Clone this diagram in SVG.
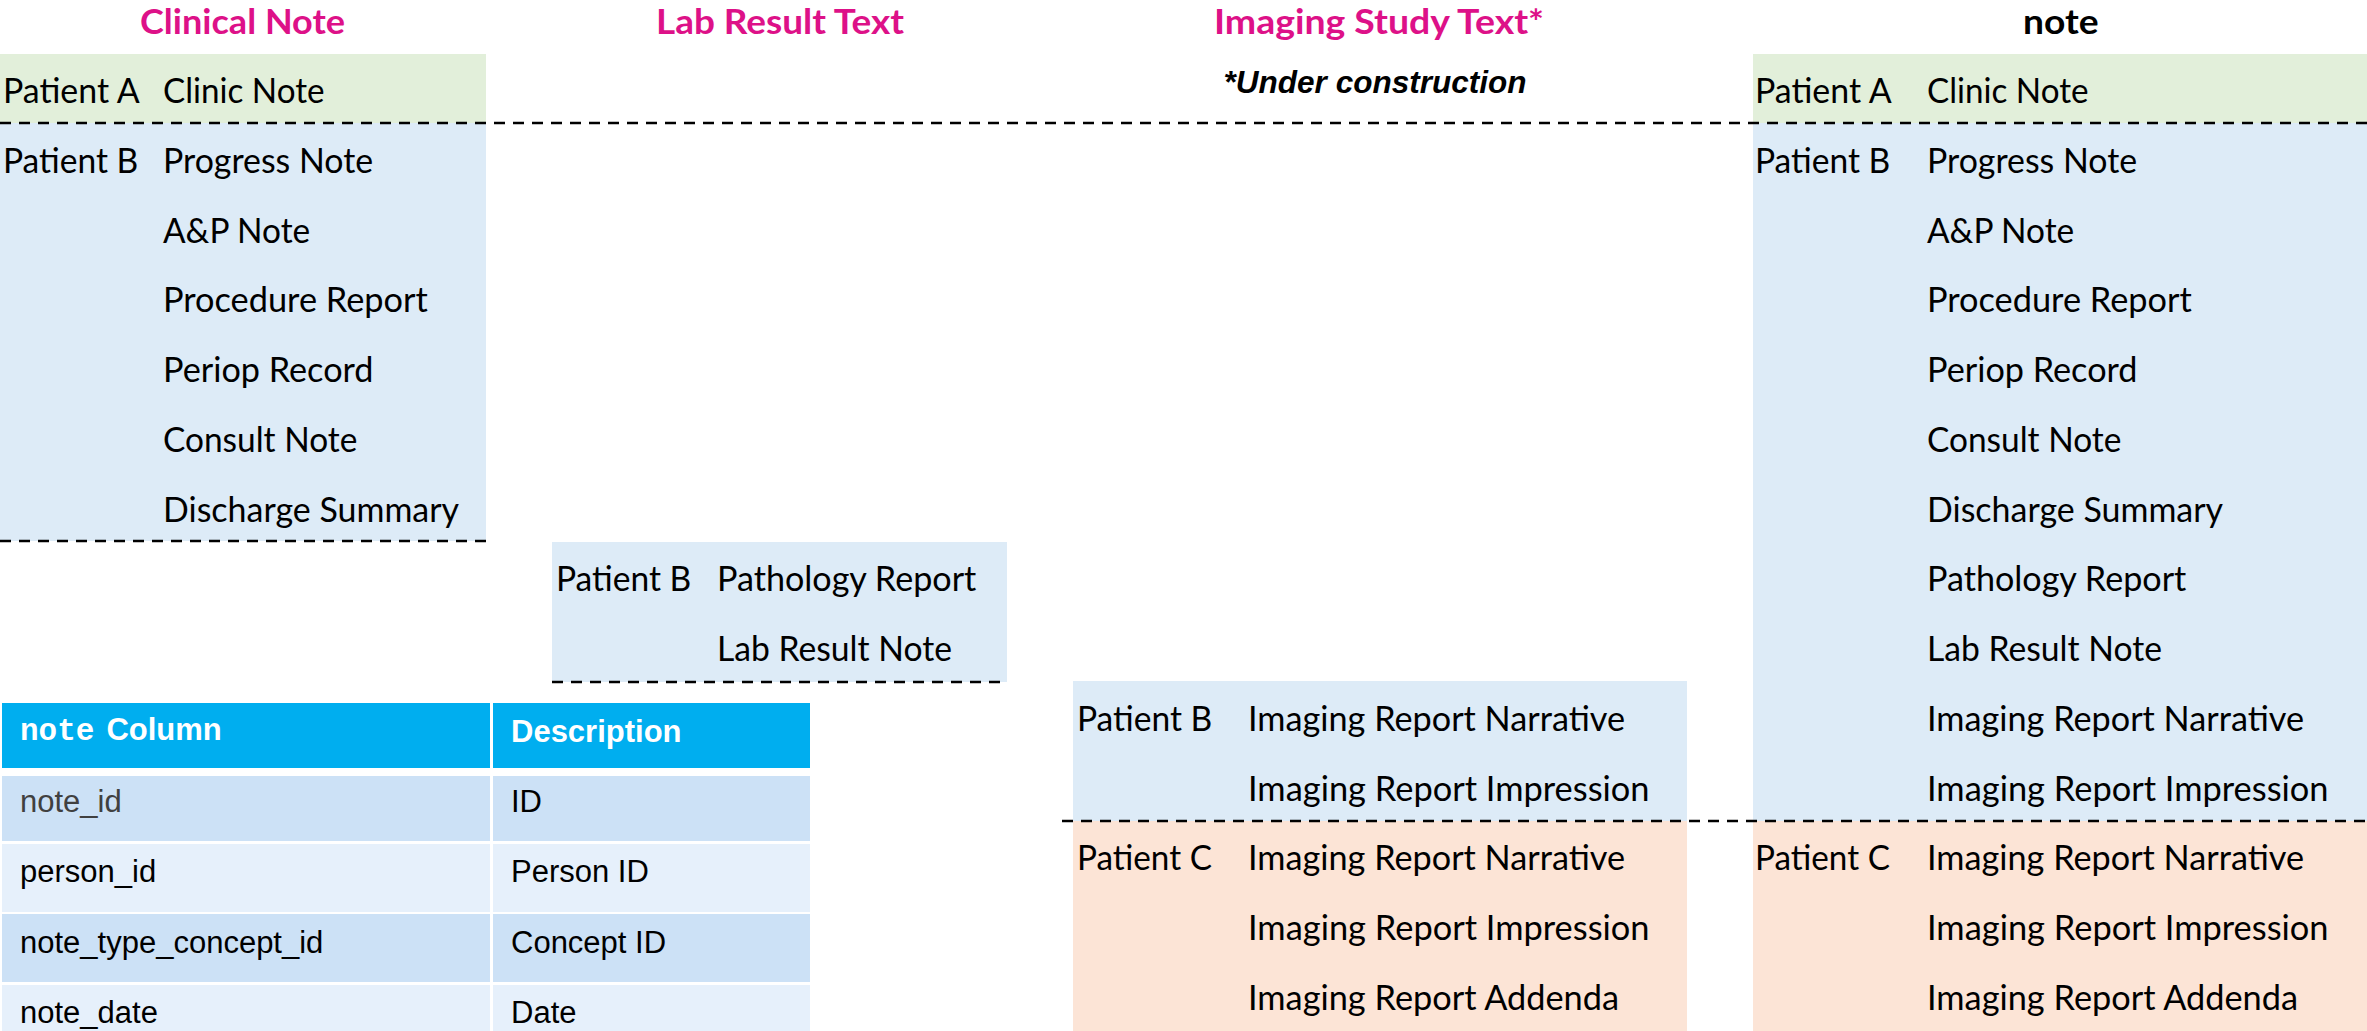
<svg xmlns="http://www.w3.org/2000/svg" width="2367" height="1031" viewBox="0 0 2367 1031">
  <style>
    .title { font-family: Lato, "Open Sans", sans-serif; font-weight: 700; font-size: 35px; fill: #DD1188; }
    .title-dark { font-family: Lato, "Open Sans", sans-serif; font-weight: 700; font-size: 35px; fill: #000000; }
    .row { font-family: Lato, "Open Sans", sans-serif; font-size: 34px; fill: #000000; }
    .hint { font-family: "Liberation Sans", Arial, sans-serif; font-weight: 700; font-style: italic; font-size: 31.5px; fill: #000000; }
    .th { font-family: "Liberation Sans", Arial, sans-serif; font-weight: 700; font-size: 31px; fill: #FFFFFF; }
    .th-code { font-family: "Liberation Mono", "Courier New", monospace; font-weight: 700; font-size: 31px; fill: #FFFFFF; }
    .td { font-family: "Liberation Sans", Arial, sans-serif; font-size: 31px; fill: #000000; }
    .td-muted { font-family: "Liberation Sans", Arial, sans-serif; font-size: 31px; fill: #404040; }
    .green { fill: #E2EFDA; }
    .blue { fill: #DDEBF7; }
    .peach { fill: #FCE4D6; }
    .sep { stroke: #000000; stroke-width: 2.5; stroke-dasharray: 11 8; fill: none; }
  </style>

  <rect x="0" y="0" width="2367" height="1031" fill="#FFFFFF"/>

  <!-- Clinical Note source -->
  <g id="clinical-note">
    <text class="title" x="140" y="34" textLength="205" lengthAdjust="spacingAndGlyphs">Clinical Note</text>
    <rect class="green" x="0" y="54" width="486" height="69"/>
    <rect class="blue" x="0" y="123" width="486" height="418"/>
    <text class="row" x="3" y="103" textLength="136.6" lengthAdjust="spacingAndGlyphs">Patient A</text>
    <text class="row" x="163" y="103" textLength="161.5" lengthAdjust="spacingAndGlyphs">Clinic Note</text>
    <text class="row" x="3" y="173" textLength="135.3" lengthAdjust="spacingAndGlyphs">Patient B</text>
    <text class="row" x="163" y="173" textLength="210.1" lengthAdjust="spacingAndGlyphs">Progress Note</text>
    <text class="row" x="163" y="242.5" textLength="147.2" lengthAdjust="spacingAndGlyphs">A&amp;P Note</text>
    <text class="row" x="163" y="312.3" textLength="264.8" lengthAdjust="spacingAndGlyphs">Procedure Report</text>
    <text class="row" x="163" y="382" textLength="210.5" lengthAdjust="spacingAndGlyphs">Periop Record</text>
    <text class="row" x="163" y="451.8" textLength="194.4" lengthAdjust="spacingAndGlyphs">Consult Note</text>
    <text class="row" x="163" y="521.5" textLength="296.1" lengthAdjust="spacingAndGlyphs">Discharge Summary</text>
  </g>

  <!-- Lab Result Text source -->
  <g id="lab-result-text">
    <text class="title" x="656" y="34" textLength="248" lengthAdjust="spacingAndGlyphs">Lab Result Text</text>
    <rect class="blue" x="552" y="542" width="455" height="140"/>
    <text class="row" x="556" y="591.3" textLength="135.3" lengthAdjust="spacingAndGlyphs">Patient B</text>
    <text class="row" x="717" y="591.3" textLength="259.3" lengthAdjust="spacingAndGlyphs">Pathology Report</text>
    <text class="row" x="717" y="661" textLength="235" lengthAdjust="spacingAndGlyphs">Lab Result Note</text>
  </g>

  <!-- Imaging Study Text source -->
  <g id="imaging-study-text">
    <text class="title" x="1214" y="34" textLength="330" lengthAdjust="spacingAndGlyphs">Imaging Study Text*</text>
    <text class="hint" x="1375" y="93" text-anchor="middle">*Under construction</text>
    <rect class="blue" x="1073" y="681" width="614" height="140"/>
    <rect class="peach" x="1073" y="821" width="614" height="210"/>
    <text class="row" x="1077" y="730.8" textLength="135.3" lengthAdjust="spacingAndGlyphs">Patient B</text>
    <text class="row" x="1248" y="730.8" textLength="377" lengthAdjust="spacingAndGlyphs">Imaging Report Narrative</text>
    <text class="row" x="1248" y="800.5" textLength="401.5" lengthAdjust="spacingAndGlyphs">Imaging Report Impression</text>
    <text class="row" x="1077" y="870.3" textLength="134.9" lengthAdjust="spacingAndGlyphs">Patient C</text>
    <text class="row" x="1248" y="870.3" textLength="377" lengthAdjust="spacingAndGlyphs">Imaging Report Narrative</text>
    <text class="row" x="1248" y="940" textLength="401.5" lengthAdjust="spacingAndGlyphs">Imaging Report Impression</text>
    <text class="row" x="1248" y="1009.8" textLength="371" lengthAdjust="spacingAndGlyphs">Imaging Report Addenda</text>
  </g>

  <!-- Combined note table -->
  <g id="note">
    <text class="title-dark" x="2023" y="34" textLength="75.5" lengthAdjust="spacingAndGlyphs">note</text>
    <rect class="green" x="1753" y="54" width="614" height="69"/>
    <rect class="blue" x="1753" y="123" width="614" height="698"/>
    <rect class="peach" x="1753" y="821" width="614" height="210"/>
    <text class="row" x="1755" y="103" textLength="136.6" lengthAdjust="spacingAndGlyphs">Patient A</text>
    <text class="row" x="1927" y="103" textLength="161.5" lengthAdjust="spacingAndGlyphs">Clinic Note</text>
    <text class="row" x="1755" y="173" textLength="135.3" lengthAdjust="spacingAndGlyphs">Patient B</text>
    <text class="row" x="1927" y="173" textLength="210.1" lengthAdjust="spacingAndGlyphs">Progress Note</text>
    <text class="row" x="1927" y="242.5" textLength="147.2" lengthAdjust="spacingAndGlyphs">A&amp;P Note</text>
    <text class="row" x="1927" y="312.3" textLength="264.8" lengthAdjust="spacingAndGlyphs">Procedure Report</text>
    <text class="row" x="1927" y="382" textLength="210.5" lengthAdjust="spacingAndGlyphs">Periop Record</text>
    <text class="row" x="1927" y="451.8" textLength="194.4" lengthAdjust="spacingAndGlyphs">Consult Note</text>
    <text class="row" x="1927" y="521.5" textLength="296.1" lengthAdjust="spacingAndGlyphs">Discharge Summary</text>
    <text class="row" x="1927" y="591.3" textLength="259.3" lengthAdjust="spacingAndGlyphs">Pathology Report</text>
    <text class="row" x="1927" y="661" textLength="235" lengthAdjust="spacingAndGlyphs">Lab Result Note</text>
    <text class="row" x="1927" y="730.8" textLength="377" lengthAdjust="spacingAndGlyphs">Imaging Report Narrative</text>
    <text class="row" x="1927" y="800.5" textLength="401.5" lengthAdjust="spacingAndGlyphs">Imaging Report Impression</text>
    <text class="row" x="1755" y="870.3" textLength="134.9" lengthAdjust="spacingAndGlyphs">Patient C</text>
    <text class="row" x="1927" y="870.3" textLength="377" lengthAdjust="spacingAndGlyphs">Imaging Report Narrative</text>
    <text class="row" x="1927" y="940" textLength="401.5" lengthAdjust="spacingAndGlyphs">Imaging Report Impression</text>
    <text class="row" x="1927" y="1009.8" textLength="371" lengthAdjust="spacingAndGlyphs">Imaging Report Addenda</text>
  </g>

  <!-- Column reference table -->
  <g id="note-columns">
    <rect x="2" y="703" width="488" height="65" fill="#00AEEF"/>
    <rect x="493" y="703" width="317" height="65" fill="#00AEEF"/>
    <rect x="2" y="776" width="488" height="65" fill="#CCE1F6"/>
    <rect x="493" y="776" width="317" height="65" fill="#CCE1F6"/>
    <rect x="2" y="844" width="488" height="68" fill="#E6F0FB"/>
    <rect x="493" y="844" width="317" height="68" fill="#E6F0FB"/>
    <rect x="2" y="914" width="488" height="68" fill="#CCE1F6"/>
    <rect x="493" y="914" width="317" height="68" fill="#CCE1F6"/>
    <rect x="2" y="985" width="488" height="46" fill="#E6F0FB"/>
    <rect x="493" y="985" width="317" height="46" fill="#E6F0FB"/>
    <text x="20" y="740"><tspan class="th-code">note</tspan><tspan class="th" dx="12">Column</tspan></text>
    <text class="th" x="511" y="742">Description</text>
    <text class="td-muted" x="20" y="812">note_id</text>
    <text class="td" x="511" y="812">ID</text>
    <text class="td" x="20" y="882">person_id</text>
    <text class="td" x="511" y="882">Person ID</text>
    <text class="td" x="20" y="953">note_type_concept_id</text>
    <text class="td" x="511" y="953">Concept ID</text>
    <text class="td" x="20" y="1023">note_date</text>
    <text class="td" x="511" y="1023">Date</text>
  </g>

  <!-- Dashed separators between patients -->
  <g id="connectors">
    <line class="sep" x1="0" y1="123" x2="2367" y2="123"/>
    <line class="sep" x1="0" y1="541" x2="486" y2="541"/>
    <line class="sep" x1="552" y1="682" x2="1007" y2="682"/>
    <line class="sep" x1="1062" y1="821" x2="2367" y2="821"/>
  </g>
</svg>
